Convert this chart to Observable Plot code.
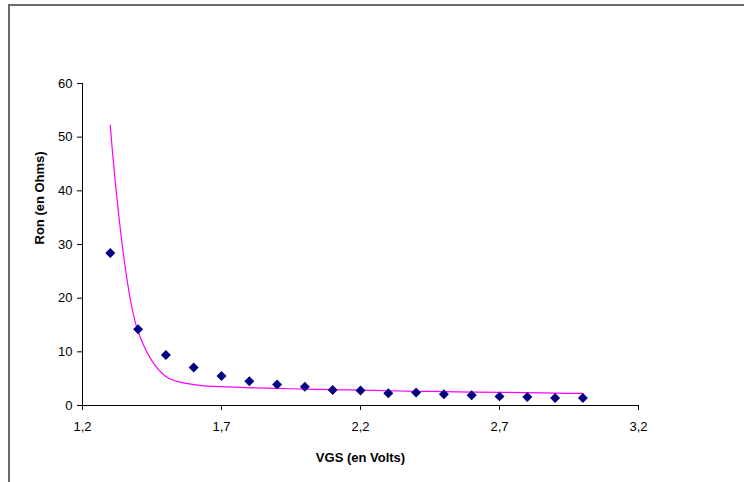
<!DOCTYPE html>
<html>
<head>
<meta charset="utf-8">
<script src="https://cdn.jsdelivr.net/npm/d3@7"></script>
<script src="https://cdn.jsdelivr.net/npm/@observablehq/plot@0.6"></script>
<style>
  html, body { margin: 0; padding: 0; background: #fff; }
  #wrap { position: relative; width: 744px; height: 482px; overflow: hidden; }
  #frame { position: absolute; left: 8px; top: 4px; right: -10px; bottom: -10px;
           border-left: 2px solid #6a6a6a; border-top: 2px solid #6a6a6a; pointer-events: none; }
  #wrap svg g[aria-label$="tick label"] { font-size: 13px !important; }
  #wrap svg g[aria-label$="tick label"] text { font-size: 13px !important; }
</style>
</head>
<body>
<div id="wrap"><div id="frame"></div></div>
<script>
// Measured points: VGS (V) vs Ron (Ohms)
const vgs = [1.3, 1.4, 1.5, 1.6, 1.7, 1.8, 1.9, 2.0, 2.1, 2.2, 2.3, 2.4, 2.5, 2.6, 2.7, 2.8, 2.9, 3.0];
const ronMeasured = [28.4, 14.2, 9.4, 7.1, 5.5, 4.5, 3.9, 3.5, 2.9, 2.8, 2.3, 2.4, 2.1, 1.9, 1.7, 1.6, 1.4, 1.4];
// Model curve (magenta line)
const ronModel = [52.2, 13.8, 5.4, 3.9, 3.5, 3.3, 3.2, 3.05, 2.95, 2.85, 2.75, 2.65, 2.6, 2.5, 2.45, 2.4, 2.3, 2.25];
const xTicks = [1.2, 1.7, 2.2, 2.7, 3.2];
const yTicks = [0, 10, 20, 30, 40, 50, 60];
const xTitle = "VGS (en Volts)";
const yTitle = "Ron (en Ohms)";

const measured = vgs.map((v, i) => ({x: v, y: ronMeasured[i]}));
const model = vgs.map((v, i) => ({x: v, y: ronModel[i]}));
const fmt = d => d3.format(".1f")(d).replace(".", ",");

const chart = Plot.plot({
  width: 744,
  height: 482,
  marginLeft: 82,
  marginRight: 106,
  marginTop: 83,
  marginBottom: 77,
  style: {fontFamily: "'Liberation Sans', Arial, sans-serif", fontSize: "13px", color: "#000", background: "transparent"},
  x: {domain: [1.2, 3.2], label: null},
  y: {domain: [0, 60], label: null},
  marks: [
    Plot.axisX({ticks: xTicks, tickFormat: fmt, tickSize: 5, tickPadding: 11, fontSize: 13, label: null, stroke: "#000", fill: "#000"}),
    Plot.axisY({ticks: yTicks, tickFormat: d => String(d), tickSize: 5, tickPadding: 5, fontSize: 13, label: null, stroke: "#000", fill: "#000"}),
    Plot.ruleY([0], {stroke: "#000"}),
    Plot.ruleX([1.2], {stroke: "#000"}),
    Plot.line(model, {x: "x", y: "y", stroke: "#ff00ff", strokeWidth: 1.2, curve: "catmull-rom"}),
    Plot.dot(measured, {x: "x", y: "y", symbol: "diamond2", r: 4.5, fill: "#000080", stroke: "none"}),
    Plot.text([xTitle], {frameAnchor: "bottom", dy: 56, fontWeight: "bold", fontSize: 13, fill: "#000"}),
    Plot.text([yTitle], {frameAnchor: "left", dx: -43, rotate: -90, fontWeight: "bold", fontSize: 13, fill: "#000"})
  ]
});
document.getElementById("wrap").prepend(chart);
</script>
</body>
</html>
